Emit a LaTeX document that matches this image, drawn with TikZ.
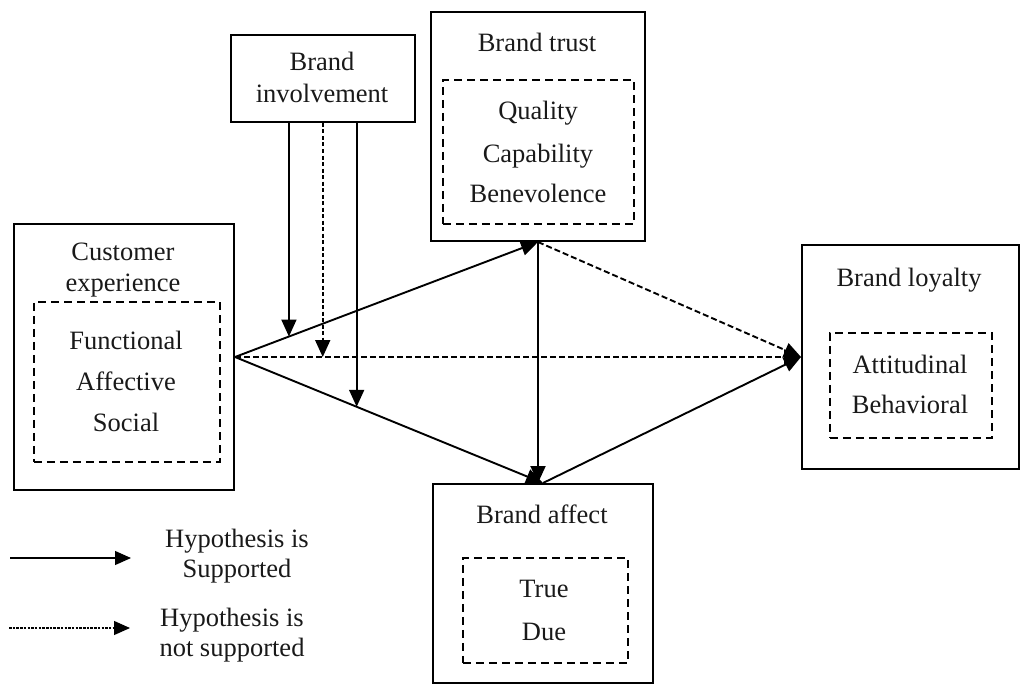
\documentclass[tikz,border=0pt]{standalone}
\usepackage{fontspec}
\setmainfont{Liberation Serif}
\usetikzlibrary{arrows.meta,calc}
\begin{document}
\begin{tikzpicture}[x=1pt,y=-1pt,
  box/.style={draw, line width=2pt, inner sep=0pt, anchor=north west},
  dbox/.style={draw, line width=1.7pt, dash pattern=on 8pt off 5pt, inner sep=0pt, anchor=north west},
  lbl/.style={font=\fontsize{26.5}{32}\selectfont, text=black!90, anchor=base, inner sep=0pt},
  conn/.style={line width=1.9pt, -{Triangle[length=17pt,width=15pt]}},
  nconn/.style={conn, dash pattern=on 6pt off 3pt},
  vconn/.style={conn, dash pattern=on 4pt off 2.5pt}
]
\useasboundingbox (0,0) rectangle (1033,698);
% boxes
\node[box, minimum width=184pt, minimum height=87pt] (bi) at (230,34) {};
\node[box, minimum width=214pt, minimum height=229pt] (bt) at (430,11) {};
\node[box, minimum width=220pt, minimum height=266pt] (ce) at (13,223) {};
\node[box, minimum width=217pt, minimum height=224pt] (bl) at (801,244) {};
\node[box, minimum width=220pt, minimum height=199pt] (ba) at (432,483) {};
% dashed inner boxes
\node[dbox, minimum width=191pt, minimum height=144pt] (btd) at (442,79) {};
\node[dbox, minimum width=186pt, minimum height=160pt] (ced) at (33,301) {};
\node[dbox, minimum width=162pt, minimum height=105pt] (bld) at (829,332) {};
\node[dbox, minimum width=165pt, minimum height=105pt] (bad) at (462,557) {};
% texts
\node[lbl] (t1) at (322,71) {Brand};
\node[lbl] (t2) at (322,103) {involvement};
\node[lbl] (t3) at (537,52) {Brand trust};
\node[lbl] (t4) at (538,120) {Quality};
\node[lbl] (t5) at (538,162) {Capability};
\node[lbl] (t6) at (538,202) {Benevolence};
\node[lbl] (t7) at (123,260) {Customer};
\node[lbl] (t8) at (123,291) {experience};
\node[lbl] (t9) at (126,349) {Functional};
\node[lbl] (t10) at (126,390) {Affective};
\node[lbl] (t11) at (126,431) {Social};
\node[lbl] (t12) at (909,286) {Brand loyalty};
\node[lbl] (t13) at (910,373) {Attitudinal};
\node[lbl] (t14) at (910,413) {Behavioral};
\node[lbl] (t15) at (542,523) {Brand affect};
\node[lbl] (t16) at (544,597) {True};
\node[lbl] (t17) at (544,640) {Due};
\node[lbl] (t18) at (237,547) {Hypothesis is};
\node[lbl] (t19) at (237,577) {Supported};
\node[lbl] (t20) at (232,626) {Hypothesis is};
\node[lbl] (t21) at (232,656) {not supported};
% connectors
\draw[conn] (ce.east) -- (bt.south);
\draw[conn] (ce.east) -- (ba.north);
\draw[nconn] (ce.east) -- (bl.west);
\draw[nconn] (bt.south) -- (bl.west);
\draw[conn] (bt.south) -- (bt.south |- ba.north);
\draw[conn] (ba.north) -- (bl.west);
% moderating arrows
\coordinate (m1) at ($(ce.east)!0.178!(bt.south)$);
\coordinate (m2) at ($(ce.east)!0.155!(bl.west)$);
\coordinate (m3) at ($(ce.east)!0.395!(ba.north)$);
\draw[conn] (m1 |- bi.south) -- (m1);
\draw[vconn] (m2 |- bi.south) -- (m2);
\draw[conn] (m3 |- bi.south) -- (m3);
% legend
\coordinate (la) at (10,558);
\coordinate (lb) at (131,558);
\coordinate (lc) at (9,628);
\coordinate (ld) at (130,628);
\draw[line width=1.2pt, -{Triangle[length=16pt,width=14pt]}] (la) -- (lb);
\draw[line width=1.2pt, dash pattern=on 2.5pt off 1.2pt, -{Triangle[length=16pt,width=14pt]}] (lc) -- (ld);
\end{tikzpicture}
\end{document}
